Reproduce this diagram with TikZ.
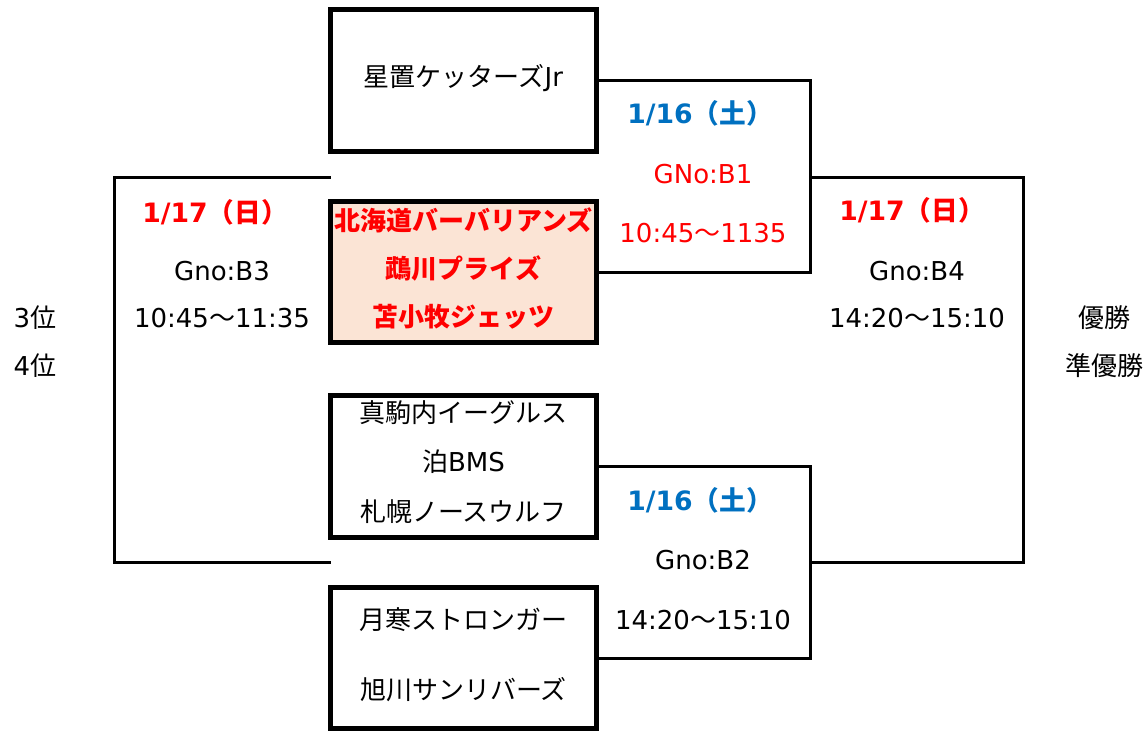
\documentclass[tikz,border=0pt]{standalone}
\usepackage{fontspec}
\setmainfont{DejaVu Sans}
\newfontfamily\jpfont{Noto Sans CJK JP}
\newcommand{\ja}[1]{{\jpfont #1}}
\usetikzlibrary{positioning}
\definecolor{teamred}{HTML}{FF0000}
\definecolor{dayblue}{HTML}{0070C0}
\definecolor{seedfill}{HTML}{FBE4D5}

\begin{document}
\begin{tikzpicture}[x=0.75pt,y=-0.75pt,line cap=rect,line join=miter,
  font=\fontsize{19.5pt}{36pt}\selectfont,
  teambox/.style={draw,line width=3.75pt,minimum width=265pt/1.333,minimum height=141pt/1.333,align=center,inner sep=0pt},
  bracket/.style={line width=2.25pt},
  daylbl/.style={font=\fontsize{20pt}{24pt}\selectfont\bfseries},
  seedlbl/.style={font=\fontsize{19.5pt}{36pt}\selectfont\jpfont\bfseries},
  lbl/.style={inner sep=0pt}]
\useasboundingbox (0,0) rectangle (1146,732);
% bracket points
\coordinate (b1) at (810,177);
\coordinate (b2) at (810,562);
\coordinate (b4) at (1023,370);
\coordinate (b3) at (114,370);
\coordinate (l1) at (329,177);
\coordinate (l2) at (329,562);
\node[teambox] (box1) at (463.5,80.5) {};
\node[teambox,fill=seedfill] (box2) at (463.5,272) {};
\node[teambox] (box3) at (463.5,466.5) {};
\node[teambox] (box4) at (463.5,658) {};
\draw [bracket] (box1.east) -| (b1) |- (box2.east);
\draw [bracket] (box3.east) -| (b2) |- (box4.east);
\draw [bracket] (b1) -| (b4) |- (b2);
\draw [bracket] (l1) -| (b3) |- (l2);
% teams
\node[lbl] (t1) at (463.5,78) {\ja{星置ケッターズ}Jr};
\node[lbl,seedlbl,color=teamred,align=center] (t2) at (463.5,268) {北海道バーバリアンズ\\鵡川プライズ\\苫小牧ジェッツ};
\node[lbl,align=center] (t3) at (463.5,462) {\ja{真駒内イーグルス}\\[1pt]\ja{泊}BMS\\[1pt]\ja{札幌ノースウルフ}};
\node[lbl,align=center] (t4) at (463.5,655) {\ja{月寒ストロンガー}\\[16.5pt]\ja{旭川サンリバーズ}};
% games
\node[lbl,daylbl,color=dayblue] (d1) at (700,113) {1/16\ja{（土）}};
\node[lbl,color=teamred] (g1) at (703,174) {GNo:B1};
\node[lbl,color=teamred] (h1) at (703,233) {10:45\ja{～}1135};
\node[lbl,daylbl,color=dayblue] (d2) at (700,500) {1/16\ja{（土）}};
\node[lbl] (g2) at (703,560) {Gno:B2};
\node[lbl] (h2) at (703,620) {14:20\ja{～}15:10};
\node[lbl,daylbl,color=teamred] (d3) at (215,212) {1/17\ja{（日）}};
\node[lbl] (g3) at (222,271) {Gno:B3};
\node[lbl] (h3) at (222,318) {10:45\ja{～}11:35};
\node[lbl,daylbl,color=teamred] (d4) at (912,210) {1/17\ja{（日）}};
\node[lbl] (g4) at (917,271) {Gno:B4};
\node[lbl] (h4) at (917,318) {14:20\ja{～}15:10};
% places
\node[lbl] (p3) at (35,318) {3\ja{位}};
\node[lbl] (p4) at (35,366) {4\ja{位}};
\node[lbl] (p1) at (1104,318) {\ja{優勝}};
\node[lbl] (p2) at (1104,366) {\ja{準優勝}};
\end{tikzpicture}
\end{document}
